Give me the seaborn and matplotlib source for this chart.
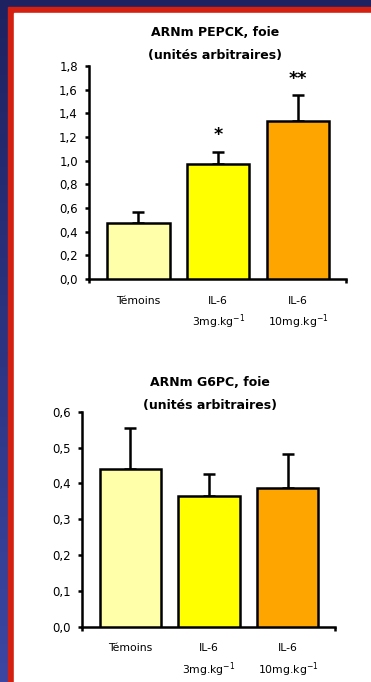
import matplotlib
matplotlib.use('Agg')
import matplotlib.pyplot as plt
import seaborn as sns
import numpy as np
import pandas as pd
from matplotlib.patches import Rectangle
from matplotlib.colors import LinearSegmentedColormap
from matplotlib.ticker import FuncFormatter

groups = ['Témoins', 'IL-6\n3mg.kg$^{-1}$', 'IL-6\n10mg.kg$^{-1}$']
bar_colors = ['#FFFFAA', '#FFFF00', '#FFA500']

pepck_mean = [0.47, 0.97, 1.335]
pepck_sem = [0.095, 0.105, 0.22]
pepck_stars = ['', '*', '**']

g6pc_mean = [0.439, 0.365, 0.386]
g6pc_sem = [0.116, 0.061, 0.095]

sns.set_style('white')
plt.rcParams['font.family'] = ['DejaVu Sans']
plt.rcParams['text.color'] = 'black'
plt.rcParams['xtick.color'] = 'black'
plt.rcParams['ytick.color'] = 'black'

fig = plt.figure(figsize=(3.71, 6.82), dpi=100)

# slide background: blue gradient, red frame, white panel
bg = fig.add_axes([0, 0, 1, 1], zorder=-10)
grad = np.linspace(0, 1, 256).reshape(-1, 1)
cmap = LinearSegmentedColormap.from_list('slide', ['#1e2260', '#3b47a3'])
bg.imshow(grad, aspect='auto', cmap=cmap, extent=[0, 1, 0, 1])
bg.set_xlim(0, 1)
bg.set_ylim(0, 1)
bg.add_patch(Rectangle((8 / 371, 0), 1, 1 - 7 / 682, color='#d42010'))
bg.add_patch(Rectangle((14 / 371, 0), 1, 1 - 13 / 682, color='white'))
bg.axis('off')


def fmt_comma(v, pos):
    return f'{v:.1f}'.replace('.', ',')


def bar_panel(rect, means, sems, ymax, step, stars=None):
    ax = fig.add_axes(rect)
    df = pd.DataFrame({'group': groups, 'value': means})
    sns.barplot(data=df, x='group', y='value', hue='group', palette=bar_colors,
                saturation=1, legend=False, width=0.78, edgecolor='black',
                linewidth=1.8, ax=ax, zorder=3)
    ax.errorbar(range(len(means)), means, yerr=[np.zeros(len(sems)), sems],
                fmt='none', ecolor='black', elinewidth=1.8, capsize=4.5,
                capthick=1.8, zorder=2)
    if stars:
        for i, s in enumerate(stars):
            if s:
                ax.text(i, means[i] + sems[i] + ymax * 0.035, s, ha='center',
                        va='bottom', fontsize=12.5, fontweight='bold',
                        color='black')
    ax.set_facecolor('none')
    ax.set_xlim(-0.62, 2.6)
    ax.set_ylim(0, ymax)
    ax.set_yticks(np.arange(0, ymax + step / 2, step))
    ax.yaxis.set_major_formatter(FuncFormatter(fmt_comma))
    ax.set_xlabel('')
    ax.set_ylabel('')
    for side in ['top', 'right']:
        ax.spines[side].set_visible(False)
    for side in ['left', 'bottom']:
        ax.spines[side].set_linewidth(1.8)
        ax.spines[side].set_color('black')
    ax.tick_params(axis='y', direction='out', length=3, width=1.8, pad=5,
                   labelsize=8.5, left=True, labelcolor='black')
    ax.tick_params(axis='x', length=0, pad=12, labelsize=7.8,
                   labelcolor='black')
    ax.set_xticks([-0.62, 2.6], minor=True)
    ax.tick_params(axis='x', which='minor', direction='out', length=3,
                   width=1.8, bottom=True)
    for t in ax.get_xticklabels():
        t.set_linespacing(1.5)
        t.set_va('top')
    return ax


bar_panel([89 / 371, 403 / 682, 257 / 371, 213 / 682],
          pepck_mean, pepck_sem, 1.8, 0.2, pepck_stars)
fig.text(215 / 371, 1 - 33 / 682, 'ARNm PEPCK, foie', ha='center', va='center',
         fontsize=9, fontweight='bold', color='black')
fig.text(215 / 371, 1 - 56 / 682, '(unités arbitraires)', ha='center',
         va='center', fontsize=9, fontweight='bold', color='black')

bar_panel([81.7 / 371, 55.3 / 682, 253.3 / 371, 215 / 682],
          g6pc_mean, g6pc_sem, 0.6, 0.1)
fig.text(210 / 371, 1 - 383 / 682, 'ARNm G6PC, foie', ha='center', va='center',
         fontsize=9, fontweight='bold', color='black')
fig.text(210 / 371, 1 - 405 / 682, '(unités arbitraires)', ha='center',
         va='center', fontsize=9, fontweight='bold', color='black')

fig.savefig('out.png', dpi=100)
